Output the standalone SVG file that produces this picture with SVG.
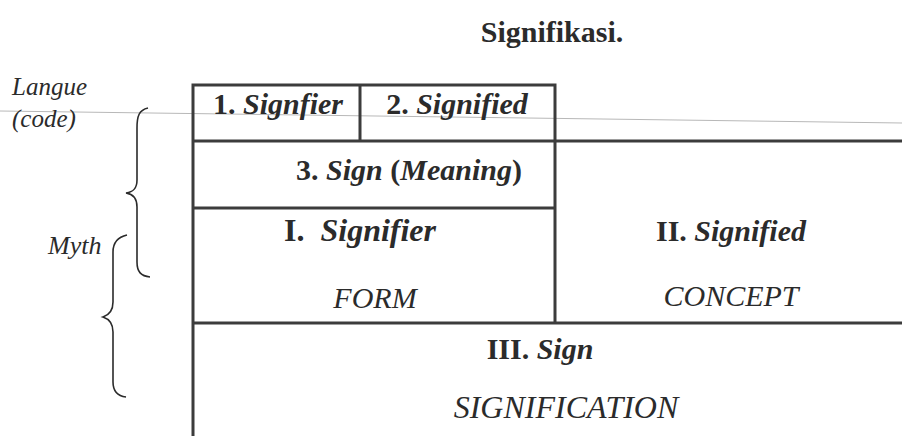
<svg xmlns="http://www.w3.org/2000/svg" width="902" height="436" viewBox="0 0 902 436">
  <style>
    text { fill: #2b2b2b; font-family: 'Liberation Serif', 'Times New Roman', 'DejaVu Serif', serif; }
    .b { font-weight: bold; }
    .i { font-style: italic; }
    .grid { stroke: #3c3c3c; stroke-width: 3; fill: none; stroke-linecap: square; }
    .brace { stroke: #2b2b2b; stroke-width: 1.6; fill: none; }
    .hair { stroke: #b8b8b8; stroke-width: 1; fill: none; }
  </style>
  <rect width="902" height="436" fill="#ffffff"/>

  <!-- title -->
  <text class="b" x="552" y="42" font-size="30" text-anchor="middle">Signifikasi.</text>

  <!-- faint rule across the upper row -->
  <line class="hair" x1="0" y1="111" x2="902" y2="123"/>

  <!-- side labels -->
  <g id="label-langue">
    <text class="i" x="12" y="95" font-size="25">Langue</text>
    <text class="i" x="12" y="127" font-size="25">(code)</text>
  </g>
  <g id="label-myth">
    <text class="i" x="48" y="254" font-size="26">Myth</text>
  </g>

  <!-- braces -->
  <g id="connectors">
    <path class="brace" d="M148,108 C139,110 137,116 137,128 L137,180 C137,189 133,192 126,193 C133,194 137,198 137,207 L137,262 C137,272 141,276 150,277"/>
    <path class="brace" d="M127,235 C118,237 113,242 113,252 L113,302 C113,311 109,315 103,317 C109,319 113,323 113,332 L113,382 C113,392 118,396 126,397"/>
  </g>

  <!-- table frame -->
  <g id="grid">
    <path class="grid" d="M193,85 H555 M193,85 V436 M360,85 V141 M555,85 V323 M193,141 H902 M193,208 H555 M193,323 H902"/>
  </g>

  <!-- cells -->
  <g id="cell-signifier-1">
    <text class="b" x="278" y="114" font-size="30" text-anchor="middle">1. <tspan class="i">Signfier</tspan></text>
  </g>
  <g id="cell-signified-2">
    <text class="b" x="457" y="114" font-size="30" text-anchor="middle">2. <tspan class="i">Signified</tspan></text>
  </g>
  <g id="cell-sign-3">
    <text class="b" x="409" y="180" font-size="30" text-anchor="middle">3. <tspan class="i">Sign</tspan> (<tspan class="i">Meaning</tspan>)</text>
  </g>
  <g id="cell-signifier-I">
    <text class="b" x="360" y="241" font-size="32" text-anchor="middle" xml:space="preserve">I.  <tspan class="i">Signifier</tspan></text>
    <text class="i" x="375" y="308" font-size="30" text-anchor="middle">FORM</text>
  </g>
  <g id="cell-signified-II">
    <text class="b" x="731" y="241" font-size="30" text-anchor="middle">II. <tspan class="i">Signified</tspan></text>
    <text class="i" x="731" y="306" font-size="30" text-anchor="middle">CONCEPT</text>
  </g>
  <g id="cell-sign-III">
    <text class="b" x="540" y="359" font-size="30" text-anchor="middle">III. <tspan class="i">Sign</tspan></text>
    <text class="i" x="566" y="418" font-size="32" text-anchor="middle">SIGNIFICATION</text>
  </g>
</svg>
